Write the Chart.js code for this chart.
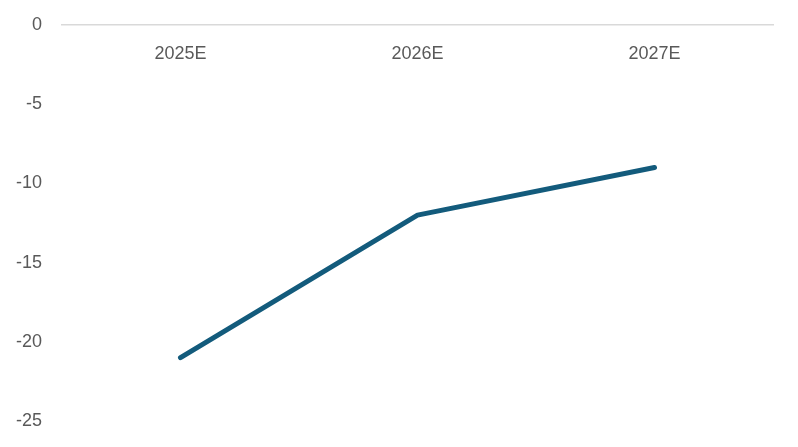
<!doctype html>
<html>
<head>
<meta charset="UTF-8">
<script src="https://cdn.jsdelivr.net/npm/chart.js@4.4.1/dist/chart.umd.min.js"></script>
<title>Line chart</title>
<style>
html, body {
	margin: 0;
	padding: 0;
	background: #ffffff;
}
.chart-box {
	width: 798px;
	height: 447px;
	position: relative;
}
</style>
</head>
<body>

<div class="chart-box"><canvas id="LineChart"></canvas></div>

<script>

// categories and values
var years = ["2025E", "2026E", "2027E"];
var values = [-21, -12, -9];
var yTicks = [0, -5, -10, -15, -20, -25];

var ctx = document.getElementById("LineChart");
var LineChart = new Chart(ctx, {
  type: 'line',
  data: {
    labels: years,
    datasets: [{
        data: values,
        borderColor: "#135b7c",
        borderWidth: 5,
        pointRadius: 0,
        borderCapStyle: 'round',
        borderJoinStyle: 'round',
        tension: 0,
        fill: false
      }
    ]
  },
  options: {
    responsive: true,
    maintainAspectRatio: false,
    animation: false,
    layout: {
      padding: { top: 25, right: 25, bottom: 26, left: 16 }
    },
    plugins: {
      legend: { display: false },
      tooltip: { enabled: false }
    },
    scales: {
      x: {
        position: { y: 0 },
        offset: true,
        afterFit: function(axis) { axis.height = 26; },
        grid: { display: false, drawTicks: false },
        border: { display: true, color: "#d9d9d9", width: 1.5 },
        ticks: {
          color: "#595959",
          padding: 18,
          font: { family: "Liberation Sans", size: 18 }
        }
      },
      y: {
        min: -25,
        max: 0,
        afterFit: function(axis) {
          axis.width = 46;
          axis.paddingTop = 11;
          axis.paddingBottom = 11;
        },
        afterBuildTicks: function(axis) {
          axis.ticks = yTicks.map(function(v) { return { value: v }; });
        },
        grid: { display: false, drawTicks: false },
        border: { display: false },
        ticks: {
          color: "#595959",
          padding: 20,
          font: { family: "Liberation Sans", size: 18 }
        }
      }
    }
  }
});

</script>
</body>
</html>
